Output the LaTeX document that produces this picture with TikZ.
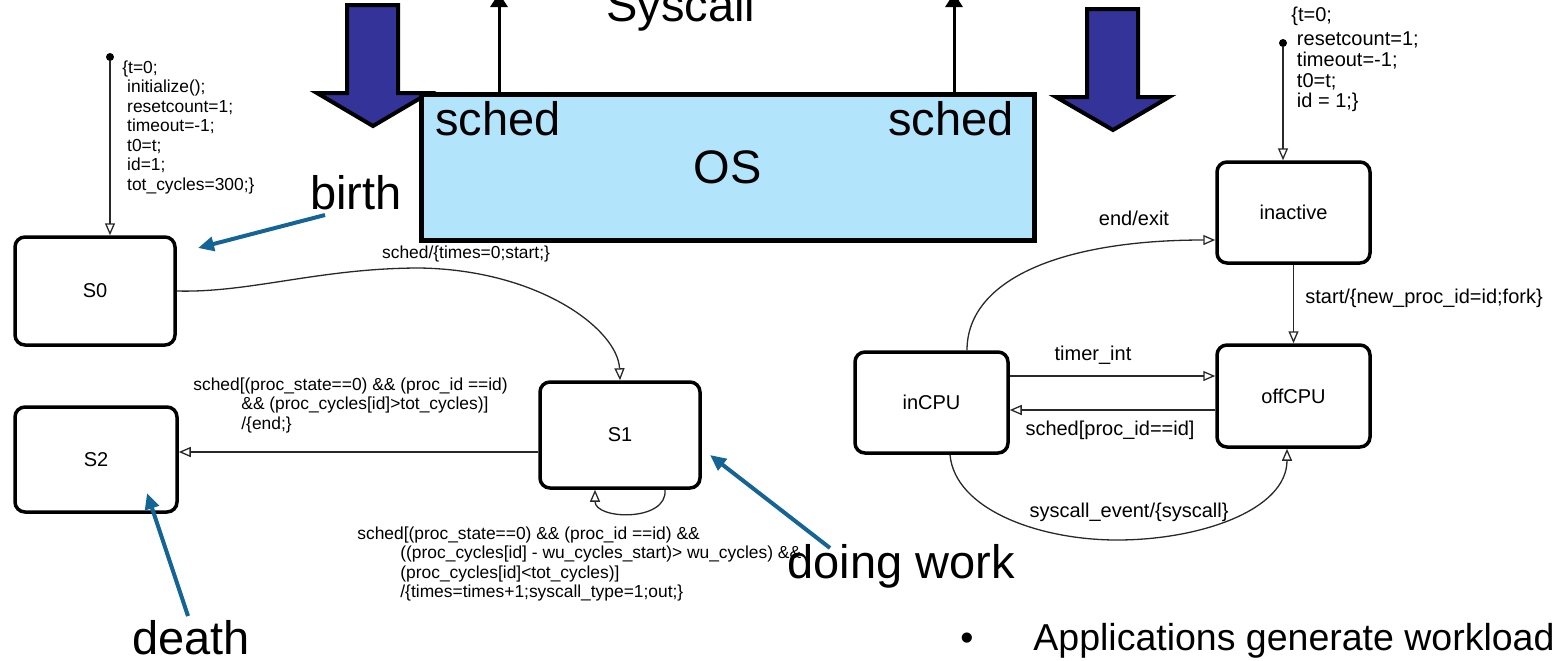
\documentclass[tikz,border=0pt]{standalone}
\usepackage{fontspec}
\setmainfont{Liberation Sans}
\usetikzlibrary{arrows.meta,calc}
\definecolor{osblue}{RGB}{178,228,252}
\definecolor{bigarrow}{RGB}{51,51,153}
\definecolor{callout}{RGB}{20,100,150}
\definecolor{lineclr}{RGB}{40,40,40}
\begin{document}
\begin{tikzpicture}[x=0.5pt,y=-0.5pt,
  stbox/.style={draw=black, line width=1.75pt, rounded corners=5pt, fill=white,
    inner sep=0pt, font=\fontsize{10}{12}\selectfont},
  trans/.style={draw=lineclr, line width=0.65pt, -{Triangle[open,length=6pt,width=5pt]}},
  small/.style={font=\fontsize{8.7}{9.75}\selectfont, inner sep=0pt, align=left},
  rlabel/.style={font=\fontsize{10}{12}\selectfont, inner sep=0pt},
  big/.style={font=\fontsize{23.5}{28}\selectfont, inner sep=0pt},
  callarrow/.style={draw=callout, line width=2pt, -{Triangle[length=8pt,width=7pt]}},
  sysarrow/.style={draw=black, line width=1.5pt, -{Triangle[length=7pt,width=8.5pt]}},
  bigdown/.style={fill=bigarrow, draw=black, line width=2pt, line join=miter},
  initdot/.style={circle, fill=black, inner sep=0pt, minimum size=4pt}
]
\useasboundingbox (0,0) rectangle (1553,660);
\clip (0,0) rectangle (1553,660);

% ---- big downward arrows ----
\draw[bigdown] (347,5) -- (398,5) -- (398,93) -- (429,93) -- (373,126) -- (317,93) -- (347,93) -- cycle;
\draw[bigdown] (1087,9) -- (1138,9) -- (1138,97) -- (1169,97) -- (1113,130) -- (1056,97) -- (1087,97) -- cycle;

% ---- OS box ----
\node[draw=black, line width=2.5pt, fill=osblue, minimum width=306.5pt, minimum height=73pt,
      inner sep=0pt, font=\fontsize{23.5}{28}\selectfont] (os) at (727.5,167) {OS};
\node[big, anchor=base west] (schedL) at (435,135) {sched};
\node[big, anchor=base west] (schedR) at (888,135) {sched};
\node[big, anchor=base west] (syscallT) at (606,21) {Syscall};
\coordinate (sysL) at (499,-7);
\coordinate (sysR) at (954,-7);
\draw[sysarrow] (sysL |- os.north) -- (sysL);
\draw[sysarrow] (sysR |- os.north) -- (sysR);

% ---- application state machine ----
\node[initdot] (initL) at (110,57) {};
\node[small, anchor=north west] (initLtext) at (122,60)
  {\{t=0;\\\ initialize();\\\ resetcount=1;\\\ timeout=-1;\\\ t0=t;\\\ id=1;\\\ tot\_cycles=300;\}};
\node[stbox, minimum width=80pt, minimum height=54pt] (S0) at (95,291) {S0};
\node[stbox, minimum width=80pt, minimum height=53pt] (S1) at (620,435) {S1};
\node[stbox, minimum width=81pt, minimum height=52.5pt] (S2) at (96,459.5) {S2};

\draw[trans] (initL) -- (initL |- S0.north);
\draw[trans] (S0.east) .. controls (250,293) and (320,268) .. (420,268)
  .. controls (540,270) and (618,330) .. (S1.north);
\node[small] (lab01) at (466,254) {sched/\{times=0;start;\}};

\draw[trans] ($(S1.west)+(0,17)$) -- ($(S2.east |- S1.west)+(0,17)$);
\node[small, anchor=north west] (lab12) at (193,377)
  {sched[(proc\_state==0) \&\& (proc\_id ==id)\\\hspace*{24pt}\&\& (proc\_cycles[id]>tot\_cycles)]\\\hspace*{24pt}/\{end;\}};

\draw[trans] ($(S1.south)+(45,0)$) .. controls (668,522) and (595,520) .. ($(S1.south)+(-25,0)$);
\node[small, anchor=north west] (lab11) at (357,526)
  {sched[(proc\_state==0) \&\& (proc\_id ==id) \&\&\\\hspace*{21.5pt}((proc\_cycles[id] - wu\_cycles\_start)> wu\_cycles) \&\&\\\hspace*{21.5pt}(proc\_cycles[id]<tot\_cycles)]\\\hspace*{21.5pt}/\{times=times+1;syscall\_type=1;out;\}};

% ---- process state machine ----
\node[initdot] (initR) at (1283,43) {};
\node[rlabel, anchor=north west, align=left, font=\fontsize{10}{10.3}\selectfont] (initRtext) at (1291,6.5)
  {\{t=0;\\[2pt]\ resetcount=1;\\\ timeout=-1;\\\ t0=t;\\\ id = 1;\}};
\node[stbox, minimum width=76.5pt, minimum height=50.5pt] (inactive) at (1293.5,212.5) {inactive};
\node[stbox, minimum width=76.5pt, minimum height=51pt] (offCPU) at (1293.5,396) {offCPU};
\node[stbox, minimum width=76.5pt, minimum height=50.5pt] (inCPU) at (931.5,402.5) {inCPU};

\draw[trans] (initR) -- (initR |- inactive.north);
\draw[trans] (inactive.south) -- (offCPU.north);
\node[rlabel, anchor=west] (labstart) at (1305,298) {start/\{new\_proc\_id=id;fork\}};

\draw[trans] ($(inCPU.north)+(35.5,0)$) .. controls (967,280) and (1060,240) .. ($(inactive.west)+(0,27.5)$);
\node[rlabel] (labexit) at (1134,218) {end/exit};

\draw[trans] ($(inCPU.east)+(0,-26.5)$) -- ($(offCPU.west |- inCPU.east)+(0,-26.5)$);
\node[rlabel] (labtimer) at (1093,355) {timer\_int};

\draw[trans] ($(offCPU.west)+(0,14)$) -- ($(inCPU.east |- offCPU.west)+(0,14)$);
\node[rlabel] (labsched) at (1110,430) {sched[proc\_id==id]};

\draw[trans] ($(inCPU.south)+(18.5,0)$) .. controls (955,510) and (1040,540) .. (1117,540)
  .. controls (1200,540) and (1287,510) .. ($(offCPU.south)+(-6.5,0)$);
\node[rlabel] (labsys) at (1129,512) {syscall\_event/\{syscall\}};

% ---- callouts ----
\node[big, anchor=base west] (birth) at (310,209) {birth};
\node[big, anchor=base west] (doing) at (787,578) {doing work};
\node[big, anchor=base west] (death) at (132,654) {death};
\coordinate (birthTail) at (325,215);
\coordinate (birthTip) at (198,248);
\coordinate (doingTail) at (830,548);
\coordinate (doingTip) at (710,455);
\coordinate (deathTail) at (188,616);
\coordinate (deathTip) at (147,493);
\draw[callarrow] (birthTail) -- (birthTip);
\draw[callarrow] (doingTail) -- (doingTip);
\draw[callarrow] (deathTail) -- (deathTip);

% ---- bullet text ----
\node[anchor=base, inner sep=0pt, font=\fontsize{18.75}{22}\selectfont] (bullet) at (967,650) {\textbullet};
\node[anchor=base west, inner sep=0pt, font=\fontsize{18.75}{22}\selectfont] (apps) at (1033,650) {Applications generate workload};
\end{tikzpicture}
\end{document}
